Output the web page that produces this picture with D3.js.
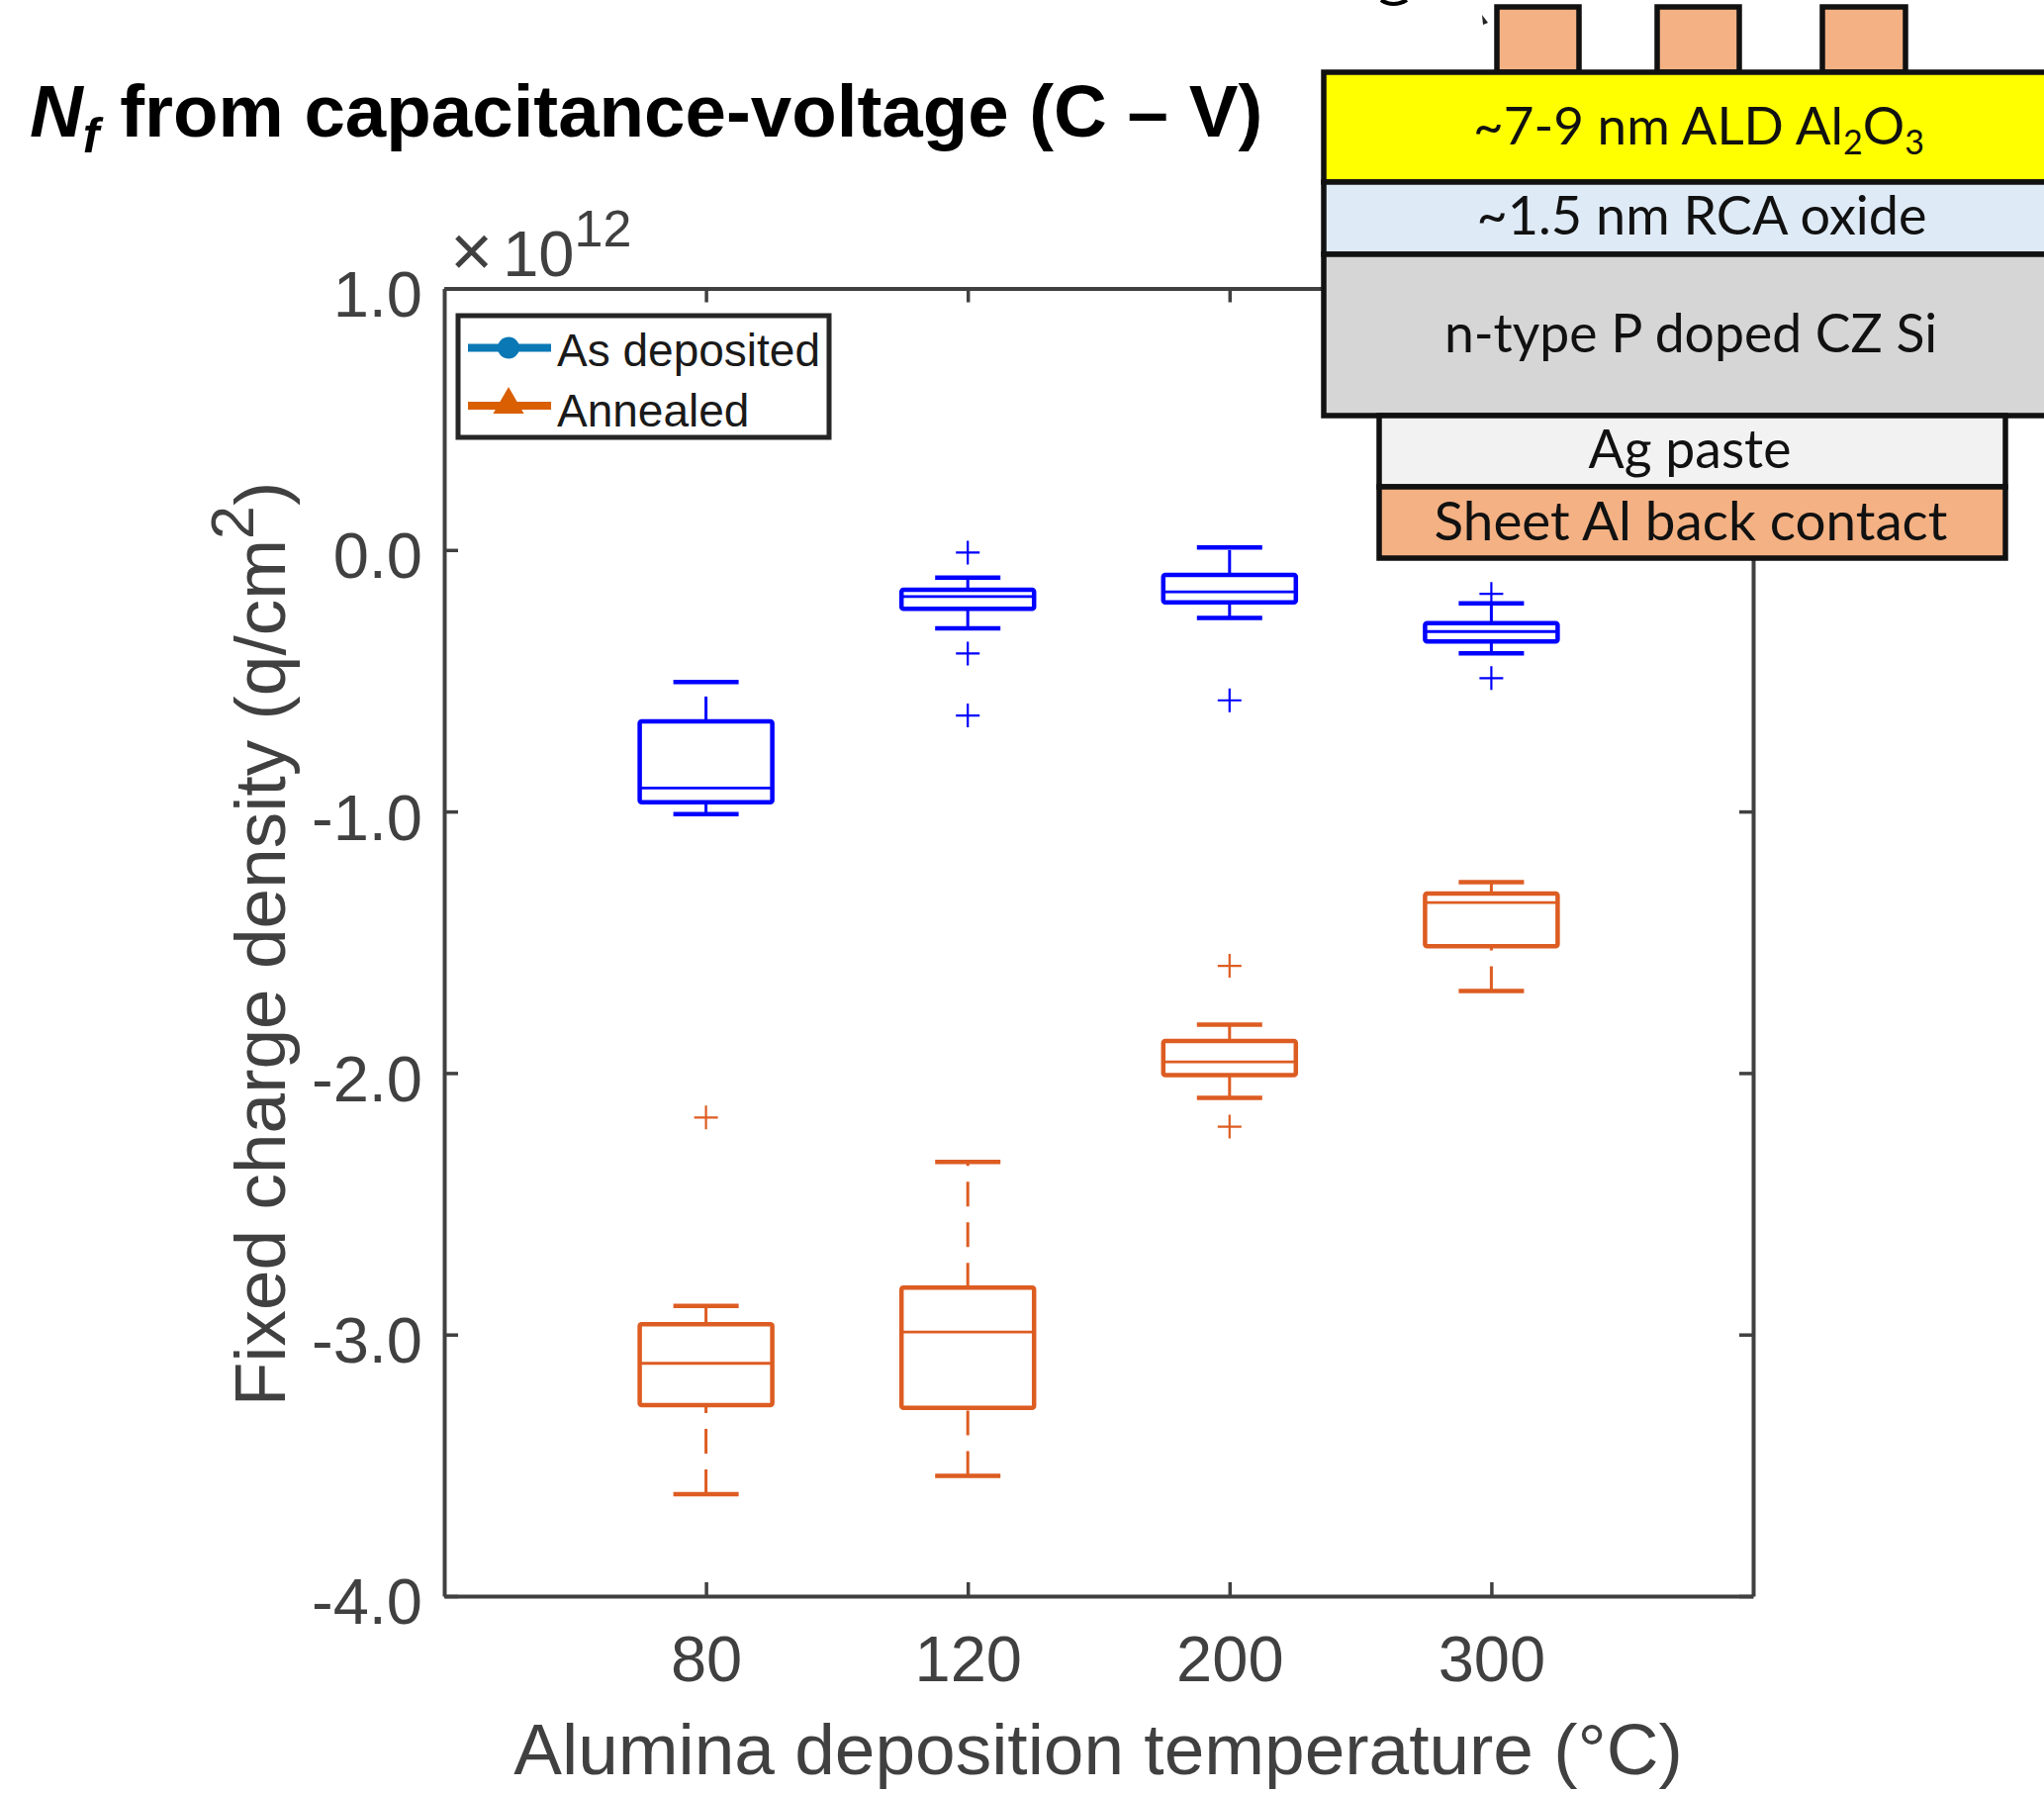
<!DOCTYPE html>
<html>
<head>
<meta charset="utf-8">
<script src="https://cdn.jsdelivr.net/npm/d3@7/dist/d3.min.js"></script>
<style>
  html, body { margin: 0; padding: 0; background: #fff; }
  svg { display: block; }
  text { font-family: "Liberation Sans", Arial, sans-serif; }
  .layer text { font-family: Lato, sans-serif; fill: #111; }
</style>
</head>
<body>
<div id="chart"></div>
<script>
// values in units of 1e12 q/cm2
const temperatures = ["80", "120", "200", "300"]
const yTicks = [1, 0, -1, -2, -3, -4]

const depLow = [-1.01, -0.30, -0.26, -0.395]
const depQ1 = [-0.965, -0.225, -0.20, -0.35]
const depMedian = [-0.91, -0.178, -0.16, -0.312]
const depQ3 = [-0.655, -0.152, -0.095, -0.28]
const depHigh = [-0.505, -0.106, 0.01, -0.204]
const depOutliers = [[], [-0.01, -0.396, -0.633], [-0.575], [-0.168, -0.49]]

const annLow = [-3.61, -3.54, -2.095, -1.686]
const annQ1 = [-3.27, -3.28, -2.008, -1.515]
const annMedian = [-3.11, -2.99, -1.957, -1.348]
const annQ3 = [-2.96, -2.82, -1.877, -1.314]
const annHigh = [-2.89, -2.34, -1.815, -1.27]
const annOutliers = [[-2.17], [], [-1.59, -2.205], []]

const legendLabels = ["As deposited", "Annealed"]

const width = 2066, height = 1813
const plotLeft = 449, plotRight = 1772, plotTop = 291.5, plotBottom = 1613
const boxW = 134, capW = 66, plus = 12

const svg = d3.select("#chart").append("svg")
  .attr("width", width).attr("height", height)
  .attr("viewBox", `0 0 ${width} ${height}`)

const x = d3.scaleLinear().domain([0, 5]).range([plotLeft, plotRight])
const y = d3.scaleLinear().domain([-4, 1]).range([plotBottom, plotTop])

// Axes, ticks pointing inward like MATLAB
const axisColor = "#404040"
const styleAxis = g => {
  g.selectAll("path.domain").attr("stroke", axisColor).attr("stroke-width", 4)
  g.selectAll(".tick line").attr("stroke", axisColor).attr("stroke-width", 3.5)
  g.selectAll("text").attr("fill", axisColor).attr("font-size", 65)
    .attr("font-family", "Liberation Sans")
}
const xTickVals = temperatures.map((d, i) => i + 1)

svg.append("g").attr("transform", `translate(0,${plotBottom})`)
  .call(d3.axisBottom(x).tickValues(xTickVals).tickSize(-14).tickSizeOuter(0)
    .tickPadding(40).tickFormat(i => temperatures[i - 1]))
  .call(styleAxis)
svg.append("g").attr("transform", `translate(0,${plotTop})`)
  .call(d3.axisTop(x).tickValues(xTickVals).tickSize(-14).tickSizeOuter(0).tickFormat(""))
  .call(styleAxis)
svg.append("g").attr("transform", `translate(${plotLeft},0)`)
  .call(d3.axisLeft(y).tickValues(yTicks).tickSize(-14).tickSizeOuter(0)
    .tickPadding(22).tickFormat(d => d3.format(".1f")(d).replace("\u2212", "-")))
  .call(styleAxis)
  .call(g => g.selectAll("text").attr("dy", "0.43em"))
svg.append("g").attr("transform", `translate(${plotRight},0)`)
  .call(d3.axisRight(y).tickValues(yTicks).tickSize(-14).tickSizeOuter(0).tickFormat(""))
  .call(styleAxis)

// Box plots
function drawBoxes(color, low, q1, median, q3, high, outliers) {
  const g = svg.append("g").attr("stroke", color).attr("fill", "none")
  temperatures.forEach((t, i) => {
    const cx = x(i + 1)
    // whiskers are stroked upward from the lower value, the dash phase shows it
    ;[[low[i], q1[i]], [q3[i], high[i]]].forEach(([a, b]) => {
      g.append("line").attr("x1", cx).attr("x2", cx).attr("y1", y(a)).attr("y2", y(b))
        .attr("stroke-width", 3).attr("stroke-dasharray", "25 16")
    })
    ;[low[i], high[i]].forEach(v => {
      g.append("line").attr("x1", cx - capW / 2).attr("x2", cx + capW / 2)
        .attr("y1", y(v)).attr("y2", y(v)).attr("stroke-width", 4.5)
    })
    g.append("rect").attr("x", cx - boxW / 2).attr("width", boxW)
      .attr("y", y(q3[i])).attr("height", y(q1[i]) - y(q3[i]))
      .attr("stroke-width", 4.5).attr("rx", 2)
    g.append("line").attr("x1", cx - boxW / 2).attr("x2", cx + boxW / 2)
      .attr("y1", y(median[i])).attr("y2", y(median[i])).attr("stroke-width", 2.8)
    outliers[i].forEach(v => {
      g.append("path")
        .attr("d", `M${cx - plus},${y(v)}H${cx + plus}M${cx},${y(v) - plus}V${y(v) + plus}`)
        .attr("stroke-width", 2.2)
    })
  })
}
drawBoxes("#0000ff", depLow, depQ1, depMedian, depQ3, depHigh, depOutliers)
drawBoxes("#dd5c22", annLow, annQ1, annMedian, annQ3, annHigh, annOutliers)

// Legend
const legend = svg.append("g")
legend.append("rect").attr("x", 463).attr("y", 319).attr("width", 375).attr("height", 123)
  .attr("fill", "#fff").attr("stroke", "#262626").attr("stroke-width", 5)
const legendColors = ["#0a78b5", "#d95f02"]
const legendY = [351.5, 410]
legendLabels.forEach((label, i) => {
  legend.append("line").attr("x1", 473).attr("x2", 557)
    .attr("y1", legendY[i]).attr("y2", legendY[i])
    .attr("stroke", legendColors[i]).attr("stroke-width", 8)
  legend.append("path")
    .attr("d", d3.symbol(i ? d3.symbolTriangle : d3.symbolCircle, i ? 420 : 380)())
    .attr("transform", `translate(514,${legendY[i] - (i ? 1 : 0)})`)
    .attr("fill", legendColors[i])
  legend.append("text").attr("x", 563).attr("y", legendY[i] + 18 + i * 3)
    .attr("font-size", 46).attr("fill", "#1a1a1a").text(label)
})

// Axis titles and exponent
const xExp = svg.append("text").attr("x", 455).attr("y", 279).attr("fill", axisColor).attr("font-size", 65)
xExp.append("tspan").text("\u00d7").attr("font-size", 74)
xExp.append("tspan").text("10").attr("dx", 10)
xExp.append("tspan").text("12").attr("font-size", 52).attr("dy", -30)

svg.append("text").attr("x", 1110).attr("y", 1793).attr("text-anchor", "middle")
  .attr("fill", axisColor).attr("font-size", 73)
  .text("Alumina deposition temperature (\u00b0C)")

const yLabel = svg.append("text").attr("transform", "translate(288,954) rotate(-90)")
  .attr("text-anchor", "middle").attr("fill", axisColor).attr("font-size", 73)
yLabel.append("tspan").text("Fixed charge density (q/cm")
yLabel.append("tspan").text("2").attr("font-size", 61).attr("dy", -32)
yLabel.append("tspan").text(")").attr("dy", 32)

// Title
const chartTitle = svg.append("text").attr("x", 30).attr("y", 138)
  .attr("font-size", 74.5).attr("font-weight", "bold").attr("fill", "#000")
chartTitle.append("tspan").text("N").attr("font-style", "italic")
chartTitle.append("tspan").text("f").attr("font-style", "italic").attr("font-size", 50).attr("dy", 16)
chartTitle.append("tspan").text(" from capacitance-voltage (C \u2013 V)").attr("dy", -16)

// Device stack drawn over the axes corner
const peach = "#f4b183"
const layers = [
  { x: 1338, y: 73, w: 760, h: 111, fill: "#ffff00" },
  { x: 1338, y: 184, w: 760, h: 73, fill: "#deeaf6" },
  { x: 1338, y: 257, w: 760, h: 163, fill: "#d6d6d6" },
  { x: 1394, y: 420, w: 633, h: 72, fill: "#f2f2f2" },
  { x: 1394, y: 492, w: 633, h: 72, fill: peach }
]
const stack = svg.append("g").attr("class", "layer")
;[[1513, 83], [1675, 83], [1842, 84]].forEach(([ex, ew]) => {
  stack.append("rect").attr("x", ex).attr("y", 7).attr("width", ew).attr("height", 66)
    .attr("fill", peach).attr("stroke", "#111").attr("stroke-width", 5.5)
})
stack.selectAll("rect.l").data(layers).join("rect").attr("class", "l")
  .attr("x", d => d.x).attr("y", d => d.y).attr("width", d => d.w).attr("height", d => d.h)
  .attr("fill", d => d.fill).attr("stroke", "#111").attr("stroke-width", 5.5)

const al = stack.append("text").attr("x", 1717).attr("y", 146).attr("text-anchor", "middle").attr("font-size", 53)
al.append("tspan").text("~7-9 nm ALD Al")
al.append("tspan").text("2").attr("font-size", 34).attr("dy", 10)
al.append("tspan").text("O").attr("dy", -10)
al.append("tspan").text("3").attr("font-size", 34).attr("dy", 10)
const stackLabels = [
  ["~1.5 nm RCA oxide", 1720, 237, 54],
  ["n-type P doped CZ Si", 1709, 356, 53.5],
  ["Ag paste", 1708, 473, 53.5],
  ["Sheet Al back contact", 1709, 546, 54.8]
]
stackLabels.forEach(([t, lx, ly, fs]) => {
  stack.append("text").attr("x", lx).attr("y", ly).attr("text-anchor", "middle")
    .attr("font-size", fs).text(t)
})
// scraps of the cropped source: descender of a cut-off heading, stray cursor mark
svg.append("path").attr("d", "M1396,0Q1408,8 1422,0").attr("fill", "none").attr("stroke", "#000").attr("stroke-width", 4)
svg.append("path").attr("d", "M1498,15L1504,23L1499,25Z").attr("fill", "#222")
</script>
</body>
</html>
